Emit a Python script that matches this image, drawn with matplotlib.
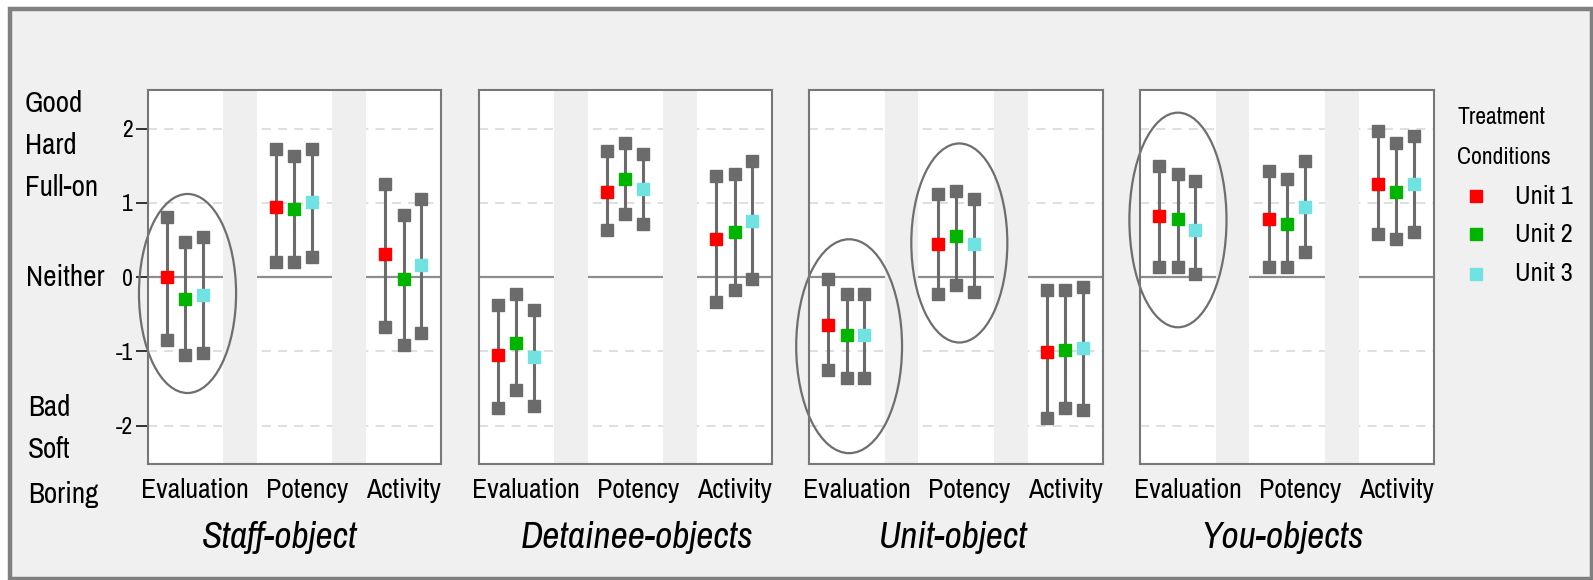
import matplotlib
matplotlib.use("Agg")
import matplotlib.pyplot as plt
from matplotlib.patches import Ellipse, Rectangle
from matplotlib.lines import Line2D

# data
objects = ['Staff-object', 'Detainee-objects', 'Unit-object', 'You-objects']
dimensions = ['Evaluation', 'Potency', 'Activity']
units = ['Unit 1', 'Unit 2', 'Unit 3']
unit_colors = ['#ff0000', '#00b400', '#70e2e2']

# [dimension][unit]
staff_mean = [[0.00, -0.30, -0.24], [0.95, 0.92, 1.01], [0.31, -0.03, 0.17]]
staff_low = [[-0.85, -1.05, -1.02], [0.21, 0.21, 0.27], [-0.67, -0.92, -0.75]]
staff_high = [[0.81, 0.47, 0.54], [1.73, 1.63, 1.73], [1.26, 0.84, 1.05]]

detainee_mean = [[-1.05, -0.88, -1.08], [1.15, 1.32, 1.19], [0.51, 0.61, 0.75]]
detainee_low = [[-1.76, -1.52, -1.73], [0.64, 0.85, 0.71], [-0.34, -0.17, -0.03]]
detainee_high = [[-0.37, -0.23, -0.44], [1.70, 1.80, 1.66], [1.36, 1.39, 1.56]]

unit_mean = [[-0.64, -0.78, -0.78], [0.44, 0.55, 0.44], [-1.01, -0.98, -0.95]]
unit_low = [[-1.25, -1.36, -1.36], [-0.23, -0.10, -0.20], [-1.89, -1.76, -1.79]]
unit_high = [[-0.03, -0.23, -0.23], [1.12, 1.16, 1.05], [-0.17, -0.17, -0.13]]

you_mean = [[0.82, 0.78, 0.64], [0.78, 0.72, 0.95], [1.26, 1.15, 1.26]]
you_low = [[0.13, 0.13, 0.04], [0.13, 0.13, 0.34], [0.58, 0.51, 0.61]]
you_high = [[1.50, 1.39, 1.29], [1.43, 1.32, 1.56], [1.97, 1.80, 1.90]]

means = [staff_mean, detainee_mean, unit_mean, you_mean]
lows = [staff_low, detainee_low, unit_low, you_low]
highs = [staff_high, detainee_high, unit_high, you_high]

# highlighted groups: (panel, x centre, y centre, width, height)
ellipses = [(0, 0.02, -0.22, 0.89, 2.68),
            (2, 0.02, -0.93, 0.97, 2.88),
            (2, 1.03, 0.46, 0.88, 2.68),
            (3, 0.00, 0.77, 0.89, 2.89)]

y_ticks = [-2, -1, 0, 1, 2]
y_ticklabels = ['-2', '-1', '0', '1', '2']

plt.rcParams['font.family'] = ['Archivo Narrow', 'Liberation Sans', 'DejaVu Sans']

W, H = 1593, 580
fig = plt.figure(figsize=(W / 100, H / 100), dpi=100)
fig.patch.set_facecolor('white')

# outer grey frame
fig.add_artist(Rectangle((10 / W, 1 / H), (1592 - 10) / W, (579 - 9) / H,
                         transform=fig.transFigure, facecolor='#f0f0f0',
                         edgecolor='#808080', linewidth=3.2, zorder=-10))

lefts = [147.7, 478.7, 809.3, 1140.3]
title_x = [280, 637, 953, 1283]
offsets = [-0.17, 0.0, 0.16]
gray = '#6b6b6b'

for p, obj in enumerate(objects):
    ax = fig.add_axes([lefts[p] / W, 1 - 464.3 / H, 293.5 / W, (464.3 - 90) / H])
    ax.set_xlim(-0.345, 2.345)
    ax.set_ylim(-2.52, 2.52)
    for v in [-2, -1, 1, 2]:
        ax.axhline(v, color='#dcdcdc', lw=1.3, ls=(0, (5, 4)), zorder=1)
    ax.axhline(0, color='#8c8c8c', lw=1.6, zorder=1)
    for g in [0.345, 1.345]:
        ax.axvspan(g, g + 0.31, color='#efefef', lw=0, zorder=1.5)

    for d in range(len(dimensions)):
        for u in range(len(units)):
            x = d + offsets[u]
            lo, hi, m = lows[p][d][u], highs[p][d][u], means[p][d][u]
            ax.vlines(x, lo, hi, color=gray, lw=2.2, zorder=3)
            ax.plot([x, x], [lo, hi], ls='none', marker='s', ms=8, color=gray,
                    zorder=4)
            ax.plot(x, m, ls='none', marker='s', ms=8, color=unit_colors[u],
                    zorder=5)

    for e in ellipses:
        if e[0] == p:
            ax.add_patch(Ellipse((e[1], e[2]), e[3], e[4], fill=False,
                                 edgecolor='#6e6e6e', lw=1.6, zorder=2,
                                 clip_on=False))

    ax.set_xticks([0.09, 1.12, 2.0])
    ax.set_xticklabels(dimensions, fontsize=20)
    ax.tick_params(axis='x', length=0, pad=10)
    if p == 0:
        ax.set_yticks(y_ticks)
        ax.set_yticklabels(y_ticklabels, fontsize=17)
        ax.tick_params(axis='y', length=8.5, width=1.3, color='#222222', pad=2)
    else:
        ax.set_yticks([])
    for s in ax.spines.values():
        s.set_color('#777777')
        s.set_linewidth(1.5)

    fig.text(title_x[p] / W, 1 - 538 / H, obj, fontsize=27, style='italic',
             ha='center', va='center')

# side labels
for txt, y in [('Good', 103), ('Hard', 145), ('Full-on', 188), ('Neither', 277),
               ('Bad', 407), ('Soft', 450), ('Boring', 495)]:
    x = 25 if y < 250 else (26 if y < 300 else 28)
    fig.text(x / W, 1 - y / H, txt, fontsize=21, ha='left', va='center')

# legend
fig.text(1457 / W, 1 - 118 / H, 'Treatment', fontsize=17, ha='left', va='center')
fig.text(1457 / W, 1 - 158 / H, 'Conditions', fontsize=17, ha='left', va='center')
for u, y in zip(range(len(units)), [196, 234, 274]):
    fig.add_artist(Line2D([1476 / W], [1 - y / H], marker='s', ms=8, ls='none',
                          color=unit_colors[u], transform=fig.transFigure))
    fig.text(1515 / W, 1 - y / H, units[u], fontsize=19, ha='left', va='center')

fig.savefig('out.png', dpi=100, facecolor=fig.get_facecolor())
